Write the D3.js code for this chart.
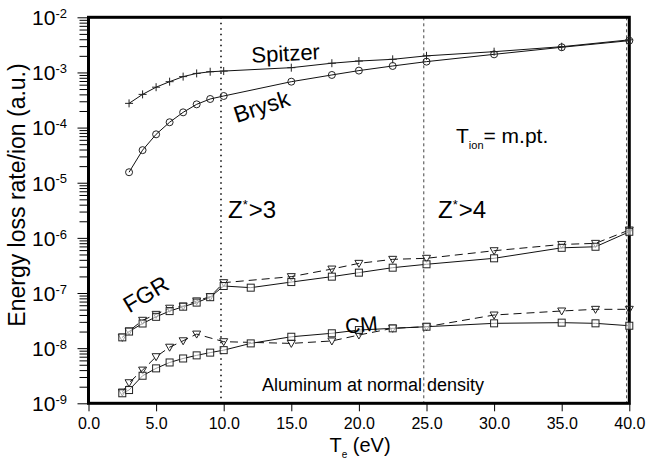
<!DOCTYPE html>
<html>
<head>
<meta charset="utf-8">
<script src="https://cdn.jsdelivr.net/npm/d3@7"></script>
<style>
  body { margin: 0; background: #fff; }
  svg { display: block; font-family: "Liberation Sans", Arial, sans-serif; }
</style>
</head>
<body>
<div id="container"></div>
<script>
// Electron temperature (eV) and energy loss rate per ion (a.u.)
const spitzerT = [3, 4, 5, 6, 7, 8, 9, 10, 15, 18, 20, 22.5, 25, 30, 35, 40];
const spitzerV = [2.75e-4, 4.0e-4, 5.4e-4, 6.8e-4, 8.4e-4, 9.6e-4, 1.03e-3, 1.06e-3, 1.22e-3, 1.47e-3, 1.61e-3, 1.73e-3, 2.0e-3, 2.38e-3, 2.93e-3, 3.9e-3];

const bryskT = [3, 4, 5, 6, 7, 8, 9, 10, 15, 18, 20, 22.5, 25, 30, 35, 40];
const bryskV = [1.55e-5, 3.9e-5, 7.55e-5, 1.25e-4, 1.89e-4, 2.64e-4, 3.3e-4, 3.74e-4, 6.8e-4, 9.0e-4, 1.08e-3, 1.31e-3, 1.57e-3, 2.13e-3, 2.86e-3, 3.77e-3];

const fgrSqT = [2.5, 3, 4, 5, 6, 7, 8, 9, 10, 12, 15, 18, 20, 22.5, 25, 30, 35, 37.5, 40];
const fgrSqV = [1.57e-8, 2.0e-8, 2.8e-8, 3.7e-8, 4.7e-8, 5.65e-8, 6.7e-8, 8.4e-8, 1.34e-7, 1.25e-7, 1.58e-7, 1.98e-7, 2.34e-7, 2.88e-7, 3.32e-7, 4.26e-7, 6.6e-7, 6.9e-7, 1.29e-6];

const fgrTriT = [2.5, 3, 4, 5, 6, 7, 8, 9, 10, 15, 18, 20, 22.5, 25, 30, 35, 37.5, 40];
const fgrTriV = [1.57e-8, 2.05e-8, 3.2e-8, 4.1e-8, 5.3e-8, 5.8e-8, 7.2e-8, 8.6e-8, 1.54e-7, 1.98e-7, 2.72e-7, 3.45e-7, 4.08e-7, 4.26e-7, 5.85e-7, 7.6e-7, 7.95e-7, 1.39e-6];

const cmSqT = [2.5, 3, 4, 5, 6, 7, 8, 9, 10, 12, 15, 18, 20, 22.5, 25, 30, 35, 37.5, 40];
const cmSqV = [1.52e-9, 1.74e-9, 3.16e-9, 4.3e-9, 5.5e-9, 6.5e-9, 7.4e-9, 8.3e-9, 9.2e-9, 1.22e-8, 1.61e-8, 1.86e-8, 2.13e-8, 2.29e-8, 2.45e-8, 2.82e-8, 2.9e-8, 2.82e-8, 2.55e-8];

const cmTriT = [2.5, 3, 4, 5, 6, 7, 8, 10, 15, 18, 20, 22.5, 25, 30, 35, 37.5, 40];
const cmTriV = [1.6e-9, 2.36e-9, 4.0e-9, 7.0e-9, 1.04e-8, 1.36e-8, 1.8e-8, 1.31e-8, 1.22e-8, 1.35e-8, 1.73e-8, 2.29e-8, 2.45e-8, 3.99e-8, 4.72e-8, 5.06e-8, 5.06e-8];

// Axis ticks
const xTicks = [0, 5, 10, 15, 20, 25, 30, 35, 40];
const yExponents = [-9, -8, -7, -6, -5, -4, -3, -2];
// Vertical reference lines (eV)
const refLines = [9.8, 24.8, 39.8];

const W = 647, H = 466;
const plot = { left: 88.5, right: 629.3, top: 17.3, bottom: 403.3 };

const svg = d3.select("#container").append("svg")
    .attr("width", W).attr("height", H);

const x = d3.scaleLinear().domain([0, 40]).range([plot.left, plot.right]);
const y = d3.scaleLog().domain([1e-9, 1e-2]).range([plot.bottom, plot.top]);

// Vertical reference lines
refLines.forEach((v, i) => {
    svg.append("line")
        .attr("x1", x(v)).attr("x2", x(v))
        .attr("y1", plot.top).attr("y2", plot.bottom)
        .attr("stroke", i === 0 ? "#000" : "#444")
        .attr("stroke-width", i === 0 ? 1.5 : 1)
        .attr("stroke-dasharray", i === 0 ? "1.5,4" : "3,3");
});

// Y axis: major ticks and minor ticks
let majorVals = yExponents.map(e => Math.pow(10, e));
let minorVals = [];
for (let e = -9; e < -2; e++)
    for (let m = 2; m <= 9; m++)
        minorVals.push(m * Math.pow(10, e));

svg.append("g")
    .attr("transform", "translate(" + plot.left + ",0)")
    .call(d3.axisLeft(y).tickValues(minorVals).tickSize(9).tickFormat(""))
    .call(g => g.select(".domain").remove())
    .selectAll("line").attr("stroke", "#000").attr("stroke-width", 1);

const yMajor = svg.append("g")
    .attr("transform", "translate(" + plot.left + ",0)")
    .call(d3.axisLeft(y).tickValues(majorVals).tickSize(11).tickPadding(10.5));
yMajor.select(".domain").remove();
yMajor.selectAll("line").attr("stroke", "#000").attr("stroke-width", 1);
yMajor.selectAll("text")
    .attr("fill", "#000")
    .style("font-size", "21px")
    .attr("dy", "0.35em")
    .text(null)
    .each(function(d) {
        const t = d3.select(this);
        t.append("tspan").text("10");
        t.append("tspan").attr("dy", "-0.55em").style("font-size", "13px")
            .text(Math.round(Math.log10(d)));
    });

// X axis
const xAxis = svg.append("g")
    .attr("transform", "translate(0," + plot.bottom + ")")
    .call(d3.axisBottom(x).tickValues(xTicks).tickSize(8).tickPadding(6)
        .tickFormat(d3.format(".1f")));
xAxis.select(".domain").remove();
xAxis.selectAll("line").attr("stroke", "#000").attr("stroke-width", 1);
xAxis.selectAll("text").attr("fill", "#000").style("font-size", "16px");

// Frame
svg.append("rect")
    .attr("x", plot.left).attr("y", plot.top)
    .attr("width", plot.right - plot.left)
    .attr("height", plot.bottom - plot.top)
    .attr("fill", "none").attr("stroke", "#000").attr("stroke-width", 3);

// Lines
const line = d3.line().x(d => x(d[0])).y(d => y(d[1]));

function series(T, V) { return T.map((t, i) => [t, V[i]]); }

function drawLine(data, dashed) {
    svg.append("path")
        .datum(data)
        .attr("fill", "none")
        .attr("stroke", "#111")
        .attr("stroke-width", 1)
        .attr("stroke-dasharray", dashed ? "8,5" : null)
        .attr("d", line);
}

function drawMarkers(data, shape) {
    const g = svg.append("g").attr("fill", "none").attr("stroke", "#222").attr("stroke-width", 1);
    data.forEach(d => {
        const cx = x(d[0]), cy = y(d[1]);
        if (shape === "circle") {
            g.append("circle").attr("cx", cx).attr("cy", cy).attr("r", 3.5);
        } else if (shape === "plus") {
            g.append("path").attr("d", `M${cx - 4},${cy}H${cx + 4}M${cx},${cy - 4}V${cy + 4}`);
        } else if (shape === "square") {
            g.append("rect").attr("x", cx - 3.5).attr("y", cy - 3.5).attr("width", 7).attr("height", 7)
                .attr("fill", "#fff").attr("fill-opacity", 0.6);
        } else if (shape === "tri") {
            g.append("path").attr("d", `M${cx - 4},${cy - 3}H${cx + 4}L${cx},${cy + 4}Z`);
        }
    });
}

const spitzer = series(spitzerT, spitzerV);
const brysk = series(bryskT, bryskV);
const fgrSq = series(fgrSqT, fgrSqV);
const fgrTri = series(fgrTriT, fgrTriV);
const cmSq = series(cmSqT, cmSqV);
const cmTri = series(cmTriT, cmTriV);

drawLine(spitzer, false);
drawLine(brysk, false);
drawLine(fgrTri, true);
drawLine(cmTri, true);
drawLine(fgrSq, false);
drawLine(cmSq, false);

drawMarkers(spitzer, "plus");
drawMarkers(brysk, "circle");
drawMarkers(fgrTri, "tri");
drawMarkers(cmTri, "tri");
drawMarkers(fgrSq, "square");
drawMarkers(cmSq, "square");

// Annotations
function label(txt, px, py, size, rot, anchor) {
    return svg.append("text")
        .attr("transform", "translate(" + px + "," + py + ") rotate(" + (rot || 0) + ")")
        .attr("text-anchor", anchor || "middle")
        .style("font-size", size + "px")
        .attr("fill", "#000")
        .text(txt);
}

label("Spitzer", 286, 61, 22, -3);
label("Brysk", 264, 114, 23, -18);
label("FGR", 150, 301, 23, -31);
label("CM", 362, 332, 21, -5);
label("Aluminum at normal density", 262, 391, 18, 0, "start");

const tion = svg.append("text").attr("x", 456).attr("y", 143)
    .style("font-size", "21px").attr("fill", "#000");
tion.append("tspan").text("T");
tion.append("tspan").attr("dy", "6").style("font-size", "11px").text("ion");
tion.append("tspan").attr("dy", "-6").text("= m.pt.");

function zLabel(px, n) {
    const t = svg.append("text").attr("x", px).attr("y", 218)
        .style("font-size", "24px").attr("fill", "#000");
    t.append("tspan").text("Z");
    t.append("tspan").attr("dy", "-9").style("font-size", "13px").text("*");
    t.append("tspan").attr("dy", "9").attr("dx", "1").text(">" + n);
}
zLabel(228, 3);
zLabel(438, 4);

// Axis titles
svg.append("text")
    .attr("transform", "translate(25,195) rotate(-90)")
    .attr("text-anchor", "middle")
    .style("font-size", "23px")
    .attr("fill", "#000")
    .text("Energy loss rate/ion (a.u.)");

const xt = svg.append("text").attr("x", 360).attr("y", 452)
    .attr("text-anchor", "middle").style("font-size", "20px").attr("fill", "#000");
xt.append("tspan").text("T");
xt.append("tspan").attr("dy", "6").style("font-size", "10px").text("e");
xt.append("tspan").attr("dy", "-6").text(" (eV)");
</script>
</body>
</html>
